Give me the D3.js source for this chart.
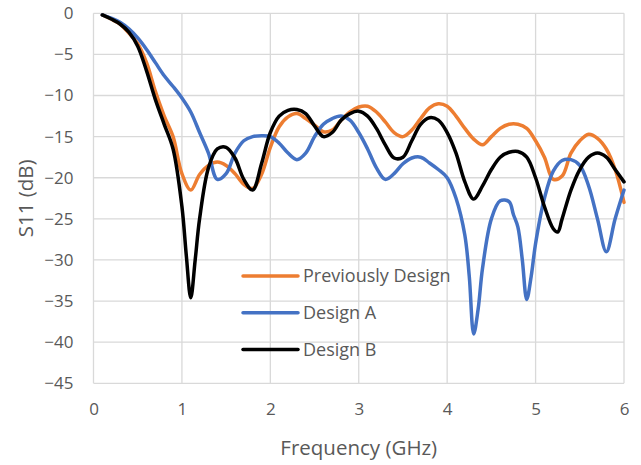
<!DOCTYPE html>
<html>
<head>
<meta charset="utf-8">
<script src="https://cdn.jsdelivr.net/npm/d3@7"></script>
<style>
  html, body { margin: 0; padding: 0; background: #fff; }
  text { font-family: "Open Sans", "Noto Sans", sans-serif; fill: #595959; }
</style>
</head>
<body>
<svg id="chart" width="641" height="465"></svg>
<script>
//-- data --//
var seriesNames = ["Previously Design", "Design A", "Design B"];
var seriesColors = ["#ED7D31", "#4472C4", "#000000"];

var prevFreq = [0.1,0.2,0.3,0.4,0.5,0.6,0.7,0.8,0.9,1.0,1.1,1.2,1.3,1.4,1.5,1.6,1.7,1.8,1.9,2.0,2.1,2.2,2.3,2.4,2.5,2.6,2.7,2.8,2.9,3.0,3.1,3.2,3.3,3.4,3.5,3.6,3.7,3.8,3.9,4.0,4.1,4.2,4.3,4.4,4.5,4.6,4.7,4.8,4.9,5.0,5.1,5.2,5.3,5.4,5.5,5.6,5.7,5.8,5.9,6.0];
var prevS11 = [-0.2,-0.7,-1.3,-2.4,-3.7,-6,-9.5,-12.5,-15,-19.5,-21.5,-19.6,-18.5,-18.1,-18.5,-19.5,-20.8,-21.3,-19.6,-16.3,-13.8,-12.6,-12.2,-12.8,-13.6,-14.4,-14.2,-13,-12,-11.4,-11.3,-12,-13.2,-14.5,-15,-14.2,-12.8,-11.5,-11,-11.3,-12.5,-14,-15.3,-16,-15,-14,-13.5,-13.5,-14,-15.5,-17.5,-20.2,-19.8,-17,-15.5,-14.7,-15.2,-16.5,-19,-23];

var aFreq = [0.1,0.2,0.3,0.4,0.5,0.6,0.7,0.8,0.9,1.0,1.1,1.2,1.3,1.4,1.5,1.6,1.7,1.8,1.9,2.0,2.1,2.2,2.3,2.4,2.5,2.6,2.7,2.8,2.9,3.0,3.1,3.2,3.3,3.4,3.5,3.6,3.7,3.8,3.9,4.0,4.1,4.2,4.25,4.3,4.35,4.4,4.5,4.6,4.7,4.75,4.8,4.85,4.9,4.95,5.0,5.1,5.2,5.3,5.4,5.5,5.6,5.7,5.8,5.9,6.0];
var aS11 = [-0.2,-0.6,-1.1,-1.9,-3.0,-4.4,-6.0,-7.6,-8.9,-10.3,-12,-14.5,-17,-20.2,-19.5,-17,-15.5,-15,-14.9,-15,-15.8,-17,-17.8,-17,-15,-13.5,-12.8,-12.5,-13,-14.5,-16.5,-18.8,-20.2,-19.5,-18.3,-17.6,-17.5,-18.2,-19,-20,-22.5,-27,-32,-39,-36,-31,-25,-22.8,-22.9,-24.5,-26,-30,-34.8,-32,-28,-22.5,-19.2,-17.9,-17.8,-18.5,-21,-25,-29,-25,-21.5];

var bFreq = [0.1,0.2,0.3,0.4,0.5,0.6,0.7,0.8,0.9,1.0,1.05,1.1,1.15,1.2,1.3,1.4,1.5,1.6,1.7,1.8,1.9,2.0,2.1,2.2,2.3,2.4,2.5,2.6,2.7,2.8,2.9,3.0,3.1,3.2,3.3,3.4,3.5,3.6,3.7,3.8,3.9,4.0,4.1,4.2,4.3,4.4,4.5,4.6,4.7,4.8,4.9,5.0,5.1,5.2,5.25,5.3,5.4,5.5,5.6,5.7,5.8,5.9,6.0];
var bS11 = [-0.2,-0.7,-1.3,-2.3,-4,-7,-10.5,-13.5,-16.5,-23.5,-29.5,-34.6,-30,-25,-18.8,-16.5,-16.3,-17.6,-20.2,-21.5,-18.3,-14.5,-12.5,-11.8,-11.7,-12.2,-13.7,-15,-14.5,-13,-12.2,-11.9,-12.5,-14,-16,-17.6,-17.5,-15.5,-13.5,-12.7,-13,-14.5,-17,-20.5,-22.6,-21,-19,-17.5,-16.9,-16.8,-17.5,-20,-23.5,-26.2,-26.6,-25,-21.5,-19,-17.5,-17,-17.5,-19,-20.5];

var xTicks = [0,1,2,3,4,5,6];
var yTicks = [0,-5,-10,-15,-20,-25,-30,-35,-40,-45];
//-- data --//

var svg = d3.select("#chart"),
    margin = {top: 13.3, left: 93.5, bottom: 81.7, right: 17};
var width = +svg.attr("width"),
    height = +svg.attr("height");

var x = d3.scaleLinear().domain([0, 6]).range([margin.left, width - margin.right]);
var y = d3.scaleLinear().domain([-45, 0]).range([height - margin.bottom, margin.top]);

//-- grid --//
var grid = svg.append("g").attr("class", "grid");
grid.selectAll("line.h").data(yTicks).enter().append("line")
    .attr("x1", x(0)).attr("x2", x(6))
    .attr("y1", d => y(d)).attr("y2", d => y(d))
    .attr("stroke", "#D9D9D9").attr("stroke-width", 1.3);
grid.selectAll("line.v").data(xTicks).enter().append("line")
    .attr("y1", y(0)).attr("y2", y(-45))
    .attr("x1", d => x(d)).attr("x2", d => x(d))
    .attr("stroke", "#D9D9D9").attr("stroke-width", 1.3);

//-- axes --//
var fmt = d3.format("d");
svg.append("g")
    .attr("transform", `translate(${margin.left},0)`)
    .call(d3.axisLeft(y).tickValues(yTicks).tickSize(0).tickPadding(20).tickFormat(fmt));
svg.append("g")
    .attr("transform", `translate(0,${y(-45)})`)
    .call(d3.axisBottom(x).tickValues(xTicks).tickSize(0).tickPadding(20).tickFormat(fmt));
svg.selectAll(".domain").remove();
svg.selectAll(".tick text")
    .style("font-family", "'Open Sans', sans-serif")
    .style("font-size", "17px")
    .attr("fill", "#595959");

svg.append("text")
    .attr("x", (x(0) + x(6)) / 2)
    .attr("y", 455)
    .attr("text-anchor", "middle")
    .style("font-size", "20.5px")
    .text("Frequency (GHz)");

svg.append("text")
    .attr("transform", `translate(33,${(y(0) + y(-45)) / 2}) rotate(-90)`)
    .attr("text-anchor", "middle")
    .style("font-size", "20.5px")
    .text("S11 (dB)");

//-- lines --//
var series = [
    {name: seriesNames[0], color: seriesColors[0], pts: d3.zip(prevFreq, prevS11)},
    {name: seriesNames[1], color: seriesColors[1], pts: d3.zip(aFreq, aS11)},
    {name: seriesNames[2], color: seriesColors[2], pts: d3.zip(bFreq, bS11)}
];

var line = d3.line()
    .x(d => x(d[0]))
    .y(d => y(d[1]))
    .curve(d3.curveCatmullRom.alpha(0.5));

svg.append("g").selectAll("path")
    .data(series).enter().append("path")
    .attr("d", d => line(d.pts))
    .attr("fill", "none")
    .attr("stroke", d => d.color)
    .attr("stroke-width", 3.5)
    .attr("stroke-linejoin", "round")
    .attr("stroke-linecap", "round");

//-- legend --//
var lg = svg.append("g").selectAll("g")
    .data(series).enter().append("g")
    .attr("transform", (d, i) => `translate(243,${276 + i * 36.7})`);
lg.append("line")
    .attr("x1", 0).attr("x2", 55)
    .attr("stroke", d => d.color)
    .attr("stroke-width", 3.5)
    .attr("stroke-linecap", "round");
lg.append("text")
    .attr("x", 60)
    .attr("dy", "0.35em")
    .style("font-size", "18px")
    .text(d => d.name);
</script>
</body>
</html>
